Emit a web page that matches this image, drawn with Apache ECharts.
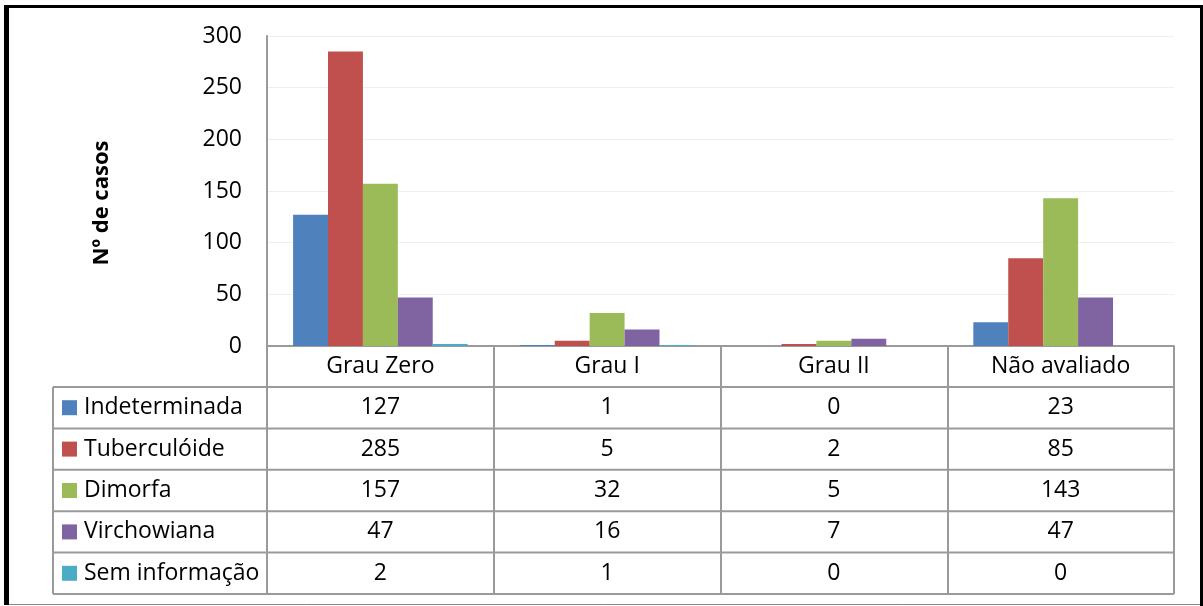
<!DOCTYPE html>
<html>
<head>
<meta charset="utf-8">
<script src="https://cdn.jsdelivr.net/npm/echarts@6/dist/echarts.min.js"></script>
<style>
  html, body { margin: 0; padding: 0; background: #fff; }
  #chart { width: 1203px; height: 606px; }
</style>
</head>
<body>
<div id="chart"></div>
<script>
// Casos por grau de incapacidade e forma clínica
const categories = ['Grau Zero', 'Grau I', 'Grau II', 'Não avaliado'];
const seriesNames = ['Indeterminada', 'Tuberculóide', 'Dimorfa', 'Virchowiana', 'Sem informação'];
const indeterminada = [127, 1, 0, 23];
const tuberculoide = [285, 5, 2, 85];
const dimorfa = [157, 32, 5, 143];
const virchowiana = [47, 16, 7, 47];
const semInformacao = [2, 1, 0, 0];
const yTicks = { min: 0, max: 300, interval: 50 };
const colors = ['#4F81BD', '#C0504D', '#9BBB59', '#8064A2', '#4BACC6'];

const seriesValues = [indeterminada, tuberculoide, dimorfa, virchowiana, semInformacao];

// Layout of the plot and the data table below it
const FONT = '"Open Sans", sans-serif';
const FS = 23;
const PLOT_LEFT = 267, PLOT_RIGHT = 1174, PLOT_TOP = 36, AXIS_Y = 346;
const TABLE_LEFT = 53, HEADER_H = 41, ROW_H = 41.4;
const TABLE_BOTTOM = AXIS_Y + HEADER_H + ROW_H * seriesNames.length;
const LINE_COLOR = '#9a9a9a';

const colW = (PLOT_RIGHT - PLOT_LEFT) / categories.length;
const graphics = [];

// frame around the whole chart
graphics.push({ type: 'rect', shape: { x: 4, y: 5, width: 5, height: 600 }, style: { fill: '#000' }, silent: true });
graphics.push({ type: 'rect', shape: { x: 4, y: 5, width: 1199, height: 3 }, style: { fill: '#000' }, silent: true });
graphics.push({ type: 'rect', shape: { x: 1200, y: 5, width: 3, height: 601 }, style: { fill: '#000' }, silent: true });
graphics.push({ type: 'line', shape: { x1: 9, y1: 604.5, x2: 1200, y2: 604.5 }, style: { stroke: '#888', lineWidth: 1 }, silent: true });

// table horizontal rules
for (let r = 0; r <= seriesNames.length; r++) {
  const y = AXIS_Y + HEADER_H + r * ROW_H;
  graphics.push({ type: 'line', shape: { x1: TABLE_LEFT, y1: y, x2: PLOT_RIGHT, y2: y },
    style: { stroke: LINE_COLOR, lineWidth: 2 }, silent: true });
}
// left edge of the legend column
graphics.push({ type: 'line', shape: { x1: TABLE_LEFT, y1: AXIS_Y + HEADER_H, x2: TABLE_LEFT, y2: TABLE_BOTTOM },
  style: { stroke: LINE_COLOR, lineWidth: 2 }, silent: true });

// legend keys, names and values per row
seriesNames.forEach((name, r) => {
  const cy = AXIS_Y + HEADER_H + r * ROW_H + ROW_H / 2;
  graphics.push({ type: 'rect', shape: { x: 62, y: cy - 7.5, width: 15, height: 15 },
    style: { fill: colors[r] }, silent: true });
  graphics.push({ type: 'text', x: 84, y: cy,
    style: { text: name, font: FS + 'px ' + FONT, fill: '#000', align: 'left', verticalAlign: 'middle' }, silent: true });
  seriesValues[r].forEach((v, c) => {
    graphics.push({ type: 'text', x: PLOT_LEFT + colW * (c + 0.5), y: cy,
      style: { text: String(v), font: FS + 'px ' + FONT, fill: '#000', align: 'center', verticalAlign: 'middle' }, silent: true });
  });
});

const chart = echarts.init(document.getElementById('chart'), null, { renderer: 'canvas' });
chart.setOption({
  backgroundColor: '#fff',
  animation: false,
  textStyle: { fontFamily: FONT },
  grid: { left: PLOT_LEFT, right: 1203 - PLOT_RIGHT, top: PLOT_TOP, height: AXIS_Y - PLOT_TOP, containLabel: false },
  xAxis: {
    type: 'category',
    data: categories,
    boundaryGap: true,
    axisLine: { show: true, lineStyle: { color: LINE_COLOR, width: 2 } },
    axisTick: { show: true, interval: 0, length: TABLE_BOTTOM - AXIS_Y, lineStyle: { color: LINE_COLOR, width: 2 } },
    axisLabel: { interval: 0, fontSize: FS, color: '#000', fontFamily: FONT, margin: 9 },
    splitLine: { show: false }
  },
  yAxis: {
    type: 'value',
    min: yTicks.min, max: yTicks.max, interval: yTicks.interval,
    name: 'Nº de casos',
    nameLocation: 'middle',
    nameRotate: 90,
    nameGap: 154,
    nameTextStyle: { fontSize: 22, fontWeight: 'bold', color: '#000', fontFamily: FONT, padding: [0, 24, 0, 0] },
    axisLine: { show: true, lineStyle: { color: LINE_COLOR, width: 2 } },
    axisTick: { show: false },
    axisLabel: { fontSize: FS, color: '#000', fontFamily: FONT, margin: 25 },
    splitLine: { show: true, lineStyle: { color: '#efefef', width: 1 } }
  },
  series: seriesNames.map((name, i) => ({
    name: name,
    type: 'bar',
    data: seriesValues[i],
    barGap: '0%',
    barCategoryGap: '23%',
    itemStyle: { color: colors[i] },
    silent: true
  })),
  graphic: graphics
});
</script>
</body>
</html>
